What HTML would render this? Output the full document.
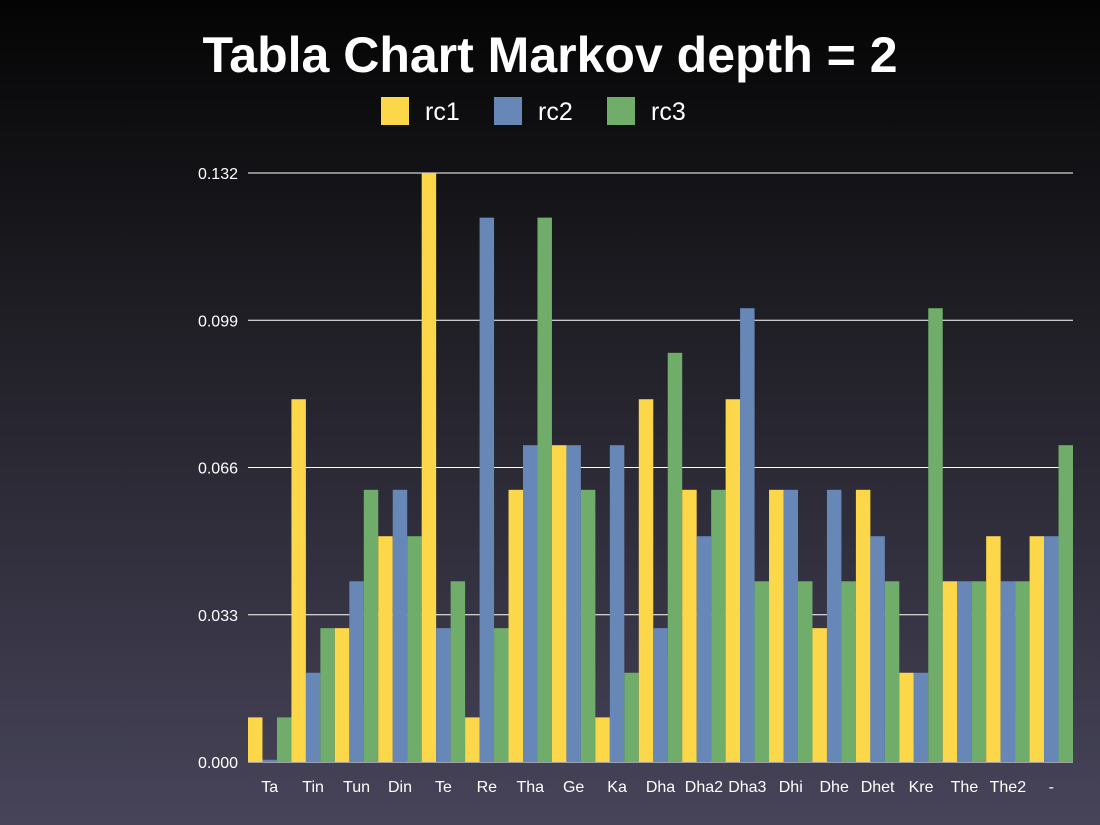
<!DOCTYPE html>
<html><head><meta charset="utf-8"><style>
html,body{margin:0;padding:0}
body{width:1100px;height:825px;overflow:hidden;background:linear-gradient(#040404 0%,#1d1c22 35%,#47445a 100%);font-family:"Liberation Sans",sans-serif}
svg{display:block}
</style></head><body>
<svg id="chart" width="1100" height="825" xmlns="http://www.w3.org/2000/svg">
<text x="550" y="72" fill="#fff" font-size="50" font-weight="bold" text-anchor="middle" font-family="Liberation Sans, sans-serif">Tabla Chart Markov depth = 2</text>
<g id="legend"></g>
<g id="grid"></g><g id="bars"></g><g id="axes"></g>
</svg>
<script>
const categories=["Ta","Tin","Tun","Din","Te","Re","Tha","Ge","Ka","Dha","Dha2","Dha3","Dhi","Dhe","Dhet","Kre","The","The2","-"];
const seriesNames=["rc1","rc2","rc3"];
const rc1=[0.010,0.0813,0.030,0.0506,0.132,0.010,0.061,0.071,0.010,0.0813,0.061,0.0813,0.061,0.030,0.061,0.020,0.0405,0.0506,0.0506];
const rc2=[0.0005,0.020,0.0405,0.061,0.030,0.122,0.071,0.071,0.071,0.030,0.0506,0.1017,0.061,0.061,0.0506,0.020,0.0405,0.0405,0.0506];
const rc3=[0.010,0.030,0.061,0.0506,0.0405,0.030,0.122,0.061,0.020,0.0917,0.061,0.0405,0.0405,0.0405,0.0405,0.1017,0.0405,0.0405,0.071];
const ticks=["0.000","0.033","0.066","0.099","0.132"];
const colors=["#fdd74a","#6787b7","#70ad6a"];
const NS="http://www.w3.org/2000/svg";
const X0=248,X1=1073,Y0=762,Y1=173,VMAX=0.132;
const y=v=>Y0-(v/VMAX)*(Y0-Y1);
const gw=(X1-X0)/categories.length, bw=gw/3;
const x=(i,s)=>X0+i*gw+s*bw;
function mk(tag,attrs,parent){const e=document.createElementNS(NS,tag);for(const k in attrs)e.setAttribute(k,attrs[k]);parent.appendChild(e);return e;}
const grid=document.getElementById('grid'),bars=document.getElementById('bars'),axes=document.getElementById('axes'),legend=document.getElementById('legend');
ticks.forEach(t=>{const v=parseFloat(t);
 const l=mk('line',{x1:X0,x2:X1,y1:y(v),y2:y(v),stroke:'#fff','stroke-width':1},grid);
 
 
 const tx=mk('text',{x:X0-10,y:y(v)+6,fill:'#fff','font-size':16,'text-anchor':'end'},axes);tx.textContent=t;
 
 
});
const data=[rc1,rc2,rc3];
categories.forEach((c,i)=>{
 data.forEach((arr,s)=>{
  const r=mk('rect',{x:x(i,s),y:y(arr[i]),width:bw,height:Y0-y(arr[i]),fill:colors[s]},bars);
  
  
 });
 const tx=mk('text',{x:X0+i*gw+gw/2,y:792,fill:'#fff','font-size':16,'text-anchor':'middle'},axes);tx.textContent=c;
 
 
});
const lx=[381,494,607];
seriesNames.forEach((n,s)=>{
 const r=mk('rect',{x:lx[s],y:97,width:28,height:28,fill:colors[s]},legend);
 
 
 const t=mk('text',{x:lx[s]+44,y:120,fill:'#fff','font-size':25},legend);t.textContent=n;
 
 
});
</script>
</body></html>
